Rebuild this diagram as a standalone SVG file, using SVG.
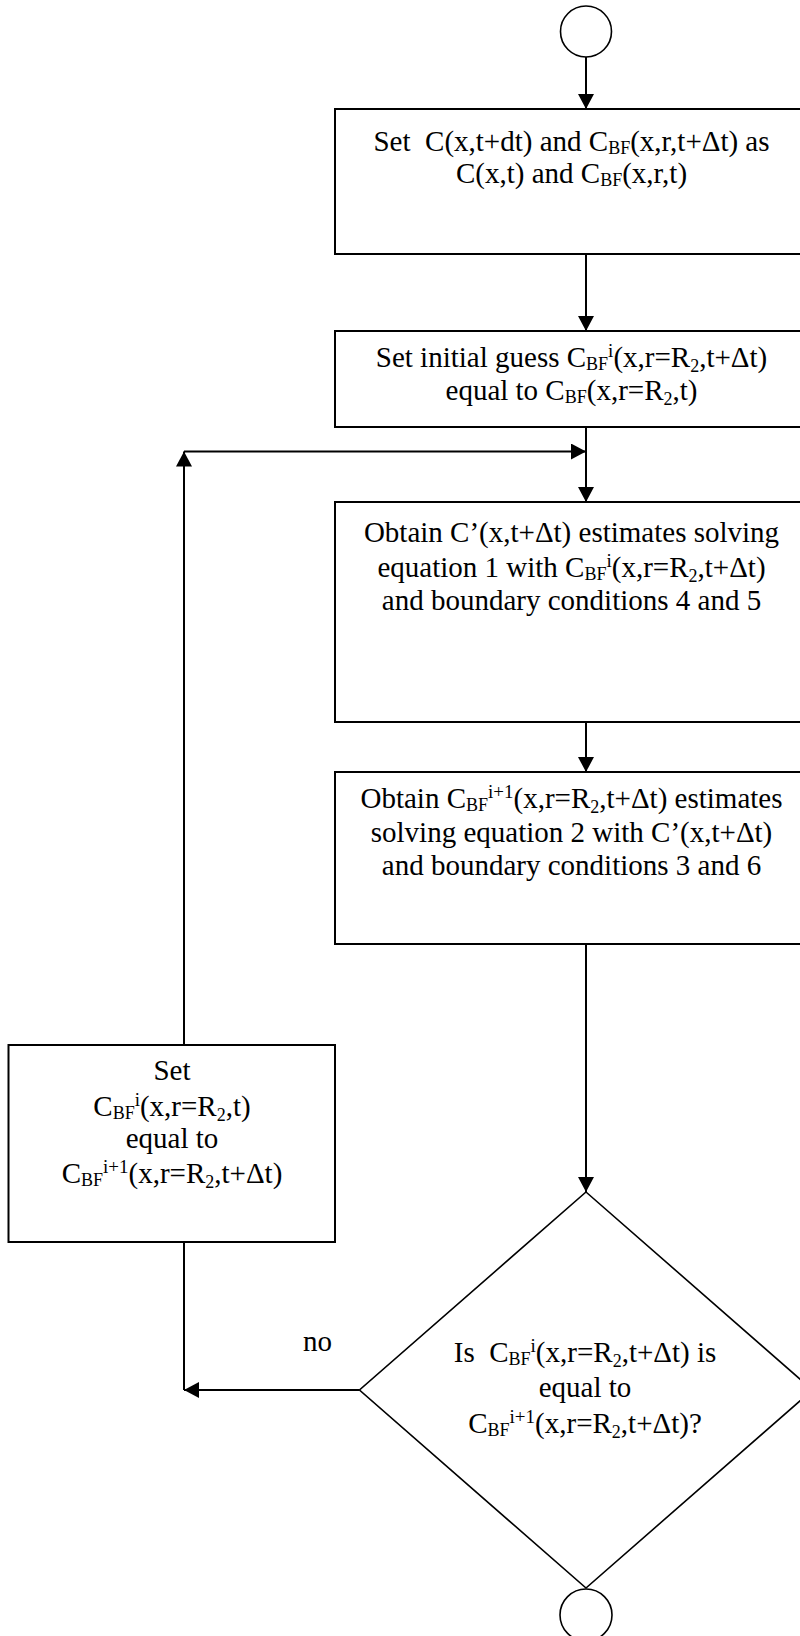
<svg xmlns="http://www.w3.org/2000/svg" width="800" height="1636" viewBox="0 0 800 1636">
  <style>
    .box { fill: #fff; stroke: #000; stroke-width: 2; }
    .thin { fill: #fff; stroke: #000; stroke-width: 1.6; }
    .wire { fill: none; stroke: #000; stroke-width: 2; }
    .arrow { marker-end: url(#head); }
    text { font-family: "Liberation Serif", "Times New Roman", serif; font-size: 29px; fill: #000; }
    .c { text-anchor: middle; }
    .sub { font-size: 18px; }
    .sup { font-size: 19px; }
  </style>
  <defs>
    <marker id="head" markerUnits="userSpaceOnUse" markerWidth="16" markerHeight="16" refX="15" refY="8" orient="auto">
      <path d="M0,0 L15,8 L0,16 z" fill="#000"/>
    </marker>
  </defs>
  <rect width="800" height="1636" fill="#fff"/>

  <!-- connectors -->
  <g id="connectors">
    <path class="wire arrow" d="M586,57 V109"/>
    <path class="wire arrow" d="M586,254 V331"/>
    <path class="wire arrow" d="M586,427 V502"/>
    <path class="wire arrow" d="M184,451.5 H586"/>
    <path class="wire arrow" d="M586,722 V772"/>
    <path class="wire arrow" d="M586,944 V1192"/>
    <path class="wire arrow" d="M359.5,1390 H184"/>
    <path class="wire" d="M184,1242 V1390"/>
    <path class="wire arrow" d="M184,1045 V451.5"/>
    <text x="303" y="1351">no</text>
  </g>

  <!-- start terminator -->
  <g id="start">
    <circle class="thin" cx="586" cy="31.5" r="25.5"/>
  </g>

  <g id="init-copy">
    <rect class="box" x="335" y="109" width="472" height="145"/>
    <text class="c" x="571.5" y="151">Set&#160; C(x,t+dt) and C<tspan class="sub" dy="3">BF</tspan><tspan dy="-3">(x,r,t+Δt) as</tspan></text>
    <text class="c" x="571.5" y="183">C(x,t) and C<tspan class="sub" dy="3">BF</tspan><tspan dy="-3">(x,r,t)</tspan></text>
  </g>

  <g id="initial-guess">
    <rect class="box" x="335" y="331" width="472" height="96"/>
    <text class="c" x="571.5" y="367">Set initial guess C<tspan class="sub" dy="3">BF</tspan><tspan class="sup" dy="-13">i</tspan><tspan dy="10">(x,r=R</tspan><tspan class="sub" dy="5">2</tspan><tspan dy="-5">,t+Δt)</tspan></text>
    <text class="c" x="571.5" y="400">equal to C<tspan class="sub" dy="3">BF</tspan><tspan dy="-3">(x,r=R</tspan><tspan class="sub" dy="5">2</tspan><tspan dy="-5">,t)</tspan></text>
  </g>

  <g id="solve-eq1">
    <rect class="box" x="335" y="502" width="472" height="220"/>
    <text class="c" x="571.5" y="542">Obtain C’(x,t+Δt) estimates solving</text>
    <text class="c" x="571.5" y="577">equation 1 with C<tspan class="sub" dy="3">BF</tspan><tspan class="sup" dy="-13">i</tspan><tspan dy="10">(x,r=R</tspan><tspan class="sub" dy="5">2</tspan><tspan dy="-5">,t+Δt)</tspan></text>
    <text class="c" x="571.5" y="610">and boundary conditions 4 and 5</text>
  </g>

  <g id="solve-eq2">
    <rect class="box" x="335" y="772" width="472" height="172"/>
    <text class="c" x="571.5" y="808">Obtain C<tspan class="sub" dy="3">BF</tspan><tspan class="sup" dy="-13">i+1</tspan><tspan dy="10">(x,r=R</tspan><tspan class="sub" dy="5">2</tspan><tspan dy="-5">,t+Δt) estimates</tspan></text>
    <text class="c" x="571.5" y="842">solving equation 2 with C’(x,t+Δt)</text>
    <text class="c" x="571.5" y="875">and boundary conditions 3 and 6</text>
  </g>

  <g id="update-guess">
    <rect class="box" x="8.5" y="1045" width="326.5" height="197"/>
    <text class="c" x="172" y="1080">Set</text>
    <text class="c" x="172" y="1116">C<tspan class="sub" dy="3">BF</tspan><tspan class="sup" dy="-13">i</tspan><tspan dy="10">(x,r=R</tspan><tspan class="sub" dy="5">2</tspan><tspan dy="-5">,t)</tspan></text>
    <text class="c" x="172" y="1148">equal to</text>
    <text class="c" x="172" y="1183">C<tspan class="sub" dy="3">BF</tspan><tspan class="sup" dy="-13">i+1</tspan><tspan dy="10">(x,r=R</tspan><tspan class="sub" dy="5">2</tspan><tspan dy="-5">,t+Δt)</tspan></text>
  </g>

  <g id="converged">
    <polygon class="thin" points="586,1192 812.5,1390 586,1588 359.5,1390"/>
    <text class="c" x="585" y="1362">Is&#160; C<tspan class="sub" dy="3">BF</tspan><tspan class="sup" dy="-13">i</tspan><tspan dy="10">(x,r=R</tspan><tspan class="sub" dy="5">2</tspan><tspan dy="-5">,t+Δt) is</tspan></text>
    <text class="c" x="585" y="1397">equal to</text>
    <text class="c" x="585" y="1433">C<tspan class="sub" dy="3">BF</tspan><tspan class="sup" dy="-13">i+1</tspan><tspan dy="10">(x,r=R</tspan><tspan class="sub" dy="5">2</tspan><tspan dy="-5">,t+Δt)?</tspan></text>
  </g>

  <!-- end terminator -->
  <g id="end">
    <circle class="thin" cx="586" cy="1615" r="26"/>
  </g>
</svg>
